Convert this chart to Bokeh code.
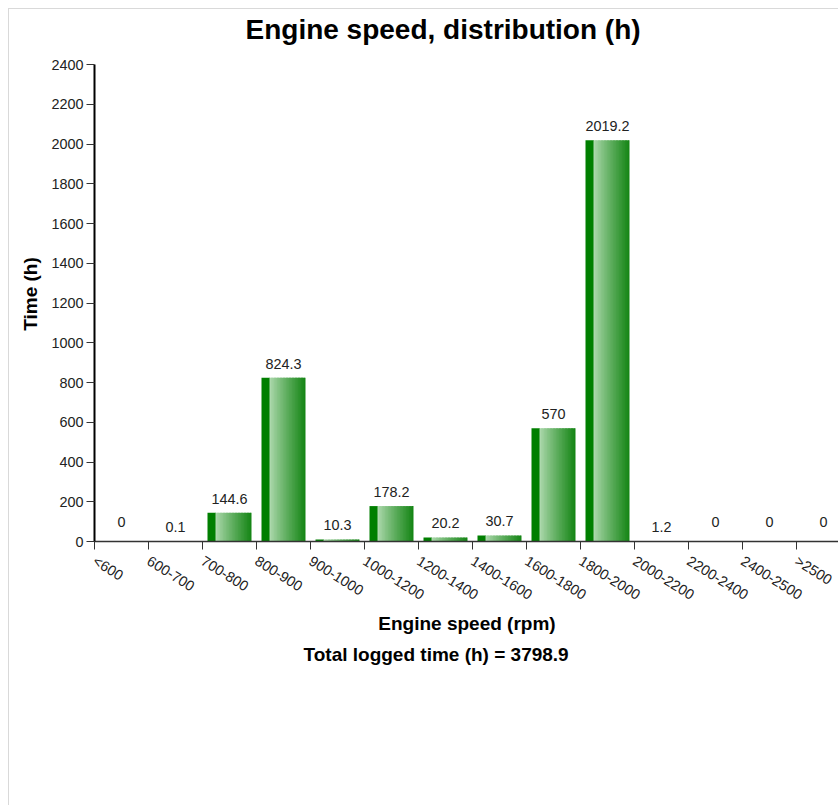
import math
from bokeh.plotting import figure
from bokeh.models import ColumnDataSource, FixedTicker, Title, Range1d
from bokeh.embed import file_html
from bokeh.resources import INLINE
from bokeh.core.properties import value

# ---- data ----
categories = ["<600", "600-700", "700-800", "800-900", "900-1000", "1000-1200",
              "1200-1400", "1400-1600", "1600-1800", "1800-2000", "2000-2200",
              "2200-2400", "2400-2500", ">2500"]
hours = [0, 0.1, 144.6, 824.3, 10.3, 178.2, 20.2, 30.7, 570, 2019.2, 1.2, 0, 0, 0]
hour_labels = ["0", "0.1", "144.6", "824.3", "10.3", "178.2", "20.2", "30.7",
               "570", "2019.2", "1.2", "0", "0", "0"]
y_ticks = [0, 200, 400, 600, 800, 1000, 1200, 1400, 1600, 1800, 2000, 2200, 2400]
y_max = 2400
total_logged = 3798.9

FONT = "Liberation Sans"

# ---- layout ----
W, H = 830, 797
LEFT, TOP = 85, 37
AXIS_H = 477            # pixel height of the 0..2400 axis
EXTRA = 18              # empty frame space above the axis top
FRAME_W, FRAME_H = W - LEFT, AXIS_H + EXTRA
CAT_PX = 54.0

p = figure(width=W, height=H, output_backend="svg", toolbar_location=None,
           x_range=Range1d(0, FRAME_W / CAT_PX),
           y_range=Range1d(0, y_max * FRAME_H / AXIS_H),
           min_border_left=LEFT, min_border_right=0, min_border_top=TOP,
           min_border_bottom=H - TOP - FRAME_H)
p.styles = {"margin-left": "8px", "margin-top": "8px",
            "border-left": "1px solid #d9d9d9", "border-top": "1px solid #d9d9d9"}
p.outline_line_color = None
p.xgrid.visible = False
p.ygrid.visible = False
p.background_fill_color = "white"
p.border_fill_color = "white"

# ---- gradient bars built from strips ----
bar_w = 44 / CAT_PX
dark_w = 8 / CAT_PX
n_grad = 24
light = (172, 216, 172)
endc = (22, 134, 22)
L, R, T, C = [], [], [], []
for i, v in enumerate(hours):
    x0 = i + 0.5 - bar_w / 2
    L.append(x0); R.append(x0 + dark_w + 0.01); T.append(v); C.append("#007f00")
    gw = (bar_w - dark_w) / n_grad
    for k in range(n_grad):
        t = (k / (n_grad - 1)) ** 0.9
        col = tuple(int(round(light[j] + (endc[j] - light[j]) * t)) for j in range(3))
        xs = x0 + dark_w + k * gw
        xe = xs + gw * (1.35 if k < n_grad - 1 else 1.0)
        L.append(xs); R.append(xe); T.append(v)
        C.append("#%02x%02x%02x" % col)
strips = ColumnDataSource(dict(left=L, right=R, top=T, bottom=[0] * len(T), color=C))
p.quad(left="left", right="right", top="top", bottom="bottom", fill_color="color",
       line_color=None, source=strips)

# ---- value labels ----
lab = ColumnDataSource(dict(
    x=[i + 0.5 for i in range(len(hours))], y=hours, text=hour_labels,
    off=[-20 if v == 0 else -14 for v in hours]))
p.text(x="x", y="y", text="text", y_offset="off", source=lab, text_align="center",
       text_baseline="middle", text_font=value(FONT), text_font_size="14.4px",
       text_color="#222222")

# ---- axes ----
p.xaxis.ticker = FixedTicker(ticks=list(range(len(categories))))
p.xaxis.major_label_overrides = {i: c for i, c in enumerate(categories)}
p.xaxis.major_label_orientation = -math.radians(32)
p.xaxis.minor_tick_line_color = None
p.xaxis.major_tick_in = 0
p.xaxis.major_tick_out = 8
p.xaxis.axis_line_width = 1.5
p.xaxis.axis_line_color = "#333333"
p.xaxis.major_tick_line_color = "#333333"
p.xaxis.major_label_standoff = 10
p.xaxis.axis_label = "Engine speed (rpm)"
p.xaxis.axis_label_standoff = 0

p.yaxis.ticker = FixedTicker(ticks=y_ticks)
p.yaxis.bounds = (0, y_max)
p.yaxis.minor_tick_line_color = None
p.yaxis.major_tick_in = 0
p.yaxis.major_tick_out = 8
p.yaxis.axis_line_width = 2
p.yaxis.axis_line_color = "black"
p.yaxis.major_tick_line_color = "#333333"
p.yaxis.major_label_standoff = 3
p.yaxis.axis_label = "Time (h)"
p.yaxis.axis_label_standoff = 7

for ax in (p.xaxis, p.yaxis):
    ax.major_label_text_font = FONT
    ax.major_label_text_font_size = "14.4px"
    ax.major_label_text_color = "#222222"
    ax.axis_label_text_font = FONT
    ax.axis_label_text_font_size = "19px"
    ax.axis_label_text_font_style = "bold"
    ax.axis_label_text_color = "black"

# ---- titles ----
p.title.text = "Engine speed, distribution (h)"
p.title.align = "left"
p.title.offset = 151
p.title.text_font = FONT
p.title.text_font_size = "28px"
p.title.text_font_style = "bold"
p.title.text_color = "black"
p.title.standoff = 4

sub = Title(text="Total logged time (h) = %.1f" % total_logged, align="left", offset=209,
            text_font=FONT, text_font_size="19px", text_font_style="bold",
            text_color="black", standoff=11)
p.add_layout(sub, "below")

open("out.html", "w").write(file_html(p, INLINE))
